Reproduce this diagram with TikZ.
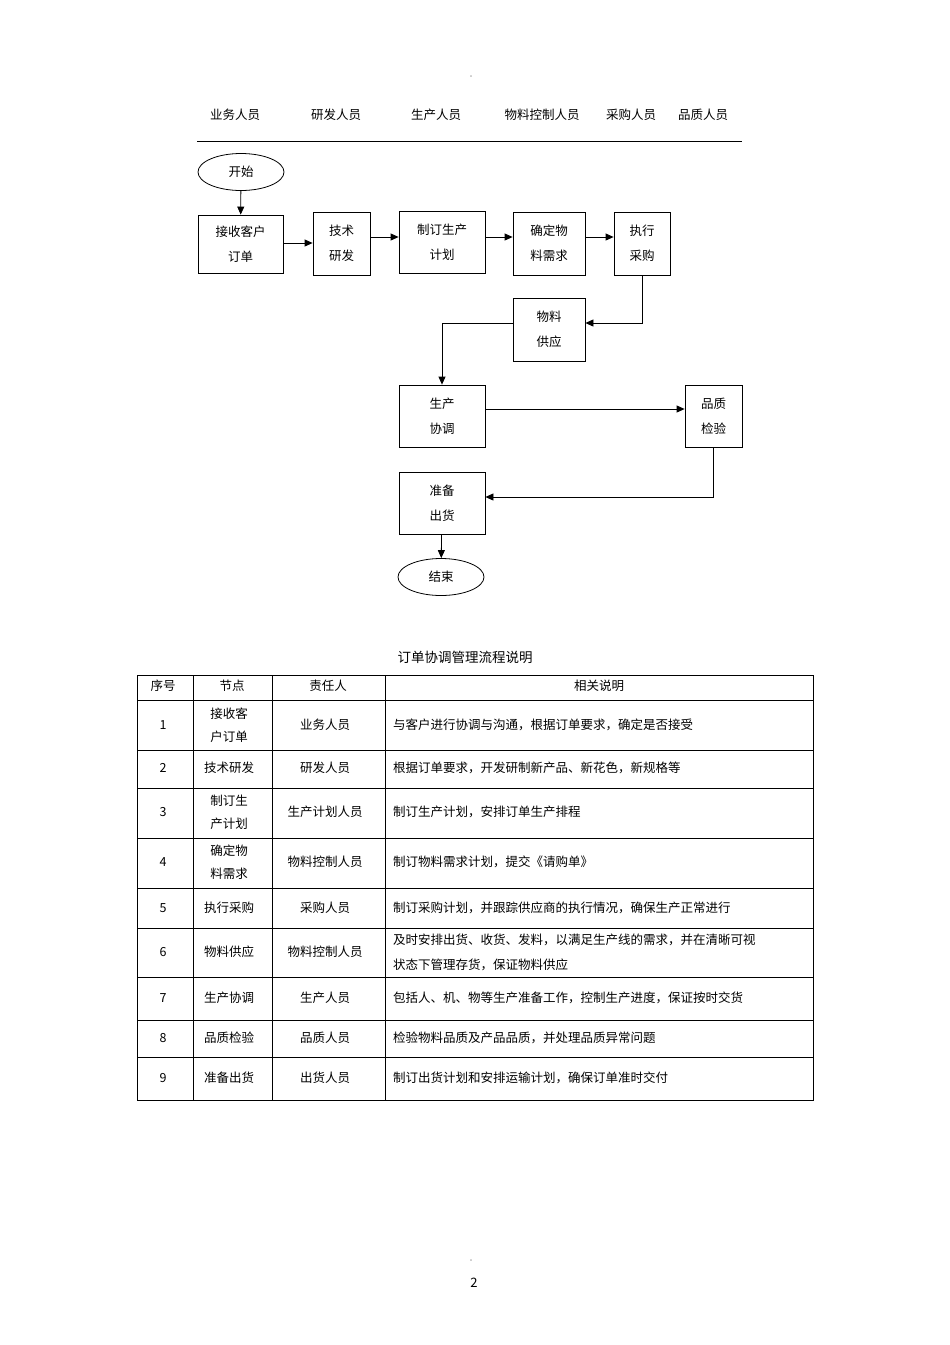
\documentclass[tikz,border=0pt]{standalone}
\usepackage{fontspec}
\setmainfont{Noto Sans CJK SC}
\usetikzlibrary{shapes.geometric,arrows.meta}
\begin{document}
\begin{tikzpicture}[x=1pt,y=-1pt,
  txt/.style={font=\fontsize{12.5}{15}\selectfont},
  box/.style={draw,thick,inner sep=0,align=center,txt,font=\fontsize{12.5}{25}\selectfont},
  oval/.style={draw,thick,ellipse,minimum width=86pt,minimum height=37pt,inner sep=0,txt},
  arr/.style={thick,-{Triangle[length=8pt,width=7pt]}},
  cell/.style={txt,align=center,inner sep=0},
  dsc/.style={txt,anchor=west,inner sep=0,align=left,font=\fontsize{12.5}{25}\selectfont}]
\useasboundingbox (0,0) rectangle (950,1345);
\node[txt,font=\tiny] (d1) at (471,77) {◦};
\foreach \n/\x/\t in {h1/235/业务人员,h2/336/研发人员,h3/436/生产人员,h4/542/物料控制人员,h5/631/采购人员,h6/703/品质人员}
  \node[txt] (\n) at (\x,115) {\t};
\draw[thick] (197,141) -- (742,141);
\node[oval] (start) at (241,172) {开始};
\node[box,minimum width=85pt,minimum height=58pt] (a) at (240.5,244) {接收客户\\订单};
\node[box,minimum width=57pt,minimum height=63pt] (b) at (341.5,243.5) {技术\\研发};
\node[box,minimum width=86pt,minimum height=62pt] (c) at (442,242) {制订生产\\计划};
\node[box,minimum width=72pt,minimum height=63pt] (d) at (549,243.5) {确定物\\料需求};
\node[box,minimum width=56pt,minimum height=63pt] (e) at (642,243.5) {执行\\采购};
\node[box,minimum width=72pt,minimum height=63pt] (f) at (549,329.5) {物料\\供应};
\node[box,minimum width=86pt,minimum height=62pt] (g) at (442,416) {生产\\协调};
\node[box,minimum width=57pt,minimum height=62pt] (h) at (713.5,416) {品质\\检验};
\node[box,minimum width=86pt,minimum height=62pt] (i) at (442,503) {准备\\出货};
\node[oval] (end) at (441,577) {结束};
\draw[arr] (start) -- (a);
\draw[arr] (a.east|-0,243) -- (b.west|-0,243);
\draw[arr] (b.east|-0,237) -- (c.west|-0,237);
\draw[arr] (c.east|-0,237) -- (d.west|-0,237);
\draw[arr] (d.east|-0,237) -- (e.west|-0,237);
\draw[arr] (e.south) |- (f.east|-0,323);
\draw[arr] (f.west|-0,323) -| (g.north);
\draw[arr] (g.east|-0,409) -- (h.west|-0,409);
\draw[arr] (h.south) |- (i.east|-0,497);
\draw[arr] (i) -- (end);
\node[txt,font=\fontsize{13.5}{16}\selectfont] (title) at (465,657) {订单协调管理流程说明};
\draw (137,675) rectangle (813,1100);
\foreach \y in {700,750,788,838,888,928,977,1020,1057} \draw (137,\y) -- (813,\y);
\foreach \x in {193,272,385} \draw (\x,675) -- (\x,1100);
\node[cell] (t1) at (163,686) {序号};
\node[cell] (t2) at (232,686) {节点};
\node[cell] (t3) at (328,686) {责任人};
\node[cell] (t4) at (599,686) {相关说明};
\foreach \k/\y/\nd/\p/\dd in {
 1/725/{接收客\\户订单}/业务人员/与客户进行协调与沟通，根据订单要求，确定是否接受,
 2/768/技术研发/研发人员/根据订单要求，开发研制新产品、新花色，新规格等,
 3/812/{制订生\\产计划}/生产计划人员/制订生产计划，安排订单生产排程,
 4/862/{确定物\\料需求}/物料控制人员/制订物料需求计划，提交《请购单》,
 5/908/执行采购/采购人员/制订采购计划，并跟踪供应商的执行情况，确保生产正常进行,
 6/952/物料供应/物料控制人员/{及时安排出货、收货、发料，以满足生产线的需求，并在清晰可视\\状态下管理存货，保证物料供应},
 7/998/生产协调/生产人员/包括人、机、物等生产准备工作，控制生产进度，保证按时交货,
 8/1038/品质检验/品质人员/检验物料品质及产品品质，并处理品质异常问题,
 9/1078/准备出货/出货人员/制订出货计划和安排运输计划，确保订单准时交付}{
 \node[cell] (n\k) at (163,\y) {\k};
 \node[cell,font=\fontsize{12.5}{23}\selectfont] (m\k) at (229,\y) {\nd};
 \node[cell] (p\k) at (325,\y) {\p};
 \node[dsc] (q\k) at (393,\y) {\dd};
}
\node[txt,font=\tiny] (d2) at (471,1261) {◦};
\node[txt,font=\fontsize{13}{15}\selectfont] (pg) at (474,1283) {2};
\end{tikzpicture}
\end{document}
